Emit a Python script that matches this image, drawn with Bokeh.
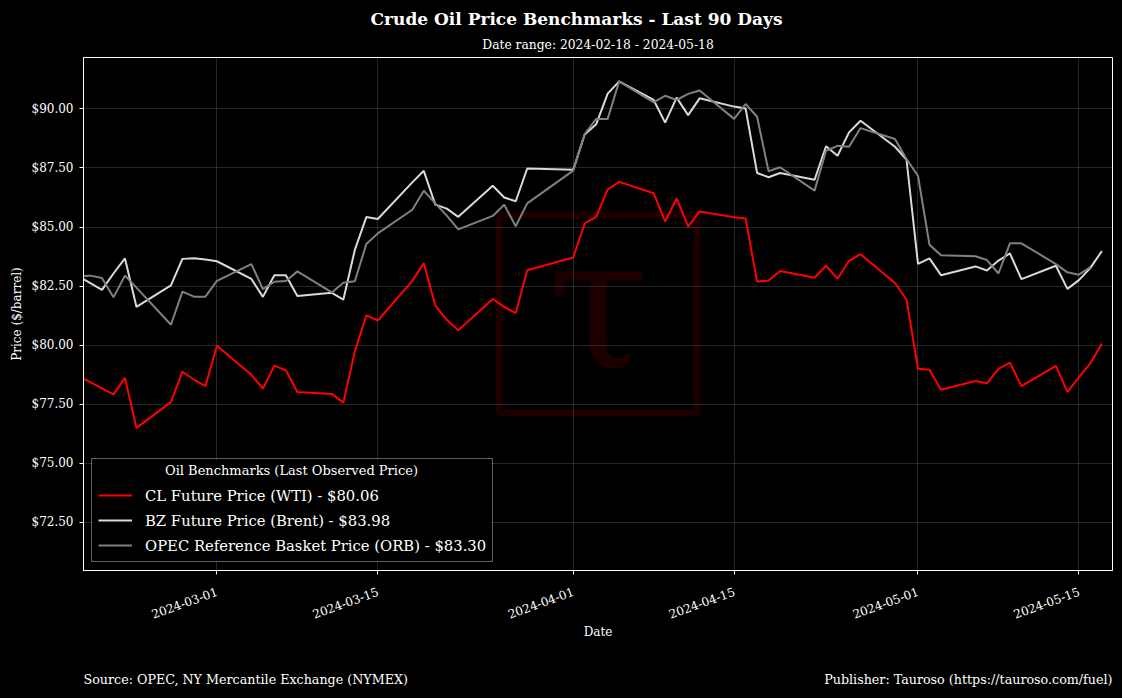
import math
import pandas as pd
from bokeh.plotting import figure
from bokeh.layouts import column
from bokeh.models import (Range1d, FixedTicker, DatetimeTickFormatter, PrintfTickFormatter,
                          Legend, LegendItem, Label, BoxAnnotation, ColumnDataSource)
from bokeh.core.properties import value
from bokeh.embed import file_html
from bokeh.resources import INLINE

# ---------------- data ----------------
wti_dates = ["2024-02-16", "2024-02-21", "2024-02-22", "2024-02-23", "2024-02-26", "2024-02-27",
             "2024-02-28", "2024-02-29", "2024-03-01", "2024-03-04", "2024-03-05", "2024-03-06",
             "2024-03-07", "2024-03-08", "2024-03-11", "2024-03-12", "2024-03-13", "2024-03-14",
             "2024-03-15", "2024-03-18", "2024-03-19", "2024-03-20", "2024-03-21", "2024-03-22",
             "2024-03-25", "2024-03-26", "2024-03-27", "2024-03-28", "2024-04-01", "2024-04-02",
             "2024-04-03", "2024-04-04", "2024-04-05", "2024-04-08", "2024-04-09", "2024-04-10",
             "2024-04-11", "2024-04-12", "2024-04-15", "2024-04-16", "2024-04-17", "2024-04-18",
             "2024-04-19", "2024-04-22", "2024-04-23", "2024-04-24", "2024-04-25", "2024-04-26",
             "2024-04-29", "2024-04-30", "2024-05-01", "2024-05-02", "2024-05-03", "2024-05-06",
             "2024-05-07", "2024-05-08", "2024-05-09", "2024-05-10", "2024-05-13", "2024-05-14",
             "2024-05-15", "2024-05-16", "2024-05-17"]
wti_prices = [79.19, 77.91, 78.61, 76.49, 77.58, 78.87,
              78.54, 78.26, 79.97, 78.74, 78.15, 79.13,
              78.93, 78.01, 77.93, 77.56, 79.72, 81.26,
              81.04, 82.72, 83.47, 81.68, 81.07, 80.63,
              81.95, 81.62, 81.35, 83.17, 83.71, 85.15,
              85.43, 86.59, 86.91, 86.43, 85.23, 86.21,
              85.02, 85.66, 85.41, 85.36, 82.69, 82.73,
              83.14, 82.85, 83.36, 82.81, 83.57, 83.85,
              82.63, 81.93, 79.00, 78.95, 78.11, 78.48,
              78.38, 78.99, 79.26, 78.26, 79.12, 78.02,
              78.63, 79.23, 80.06]

brent_dates = ["2024-02-16", "2024-02-20", "2024-02-21", "2024-02-22", "2024-02-23", "2024-02-26",
               "2024-02-27", "2024-02-28", "2024-02-29", "2024-03-01", "2024-03-04", "2024-03-05",
               "2024-03-06", "2024-03-07", "2024-03-08", "2024-03-11", "2024-03-12", "2024-03-13",
               "2024-03-14", "2024-03-15", "2024-03-18", "2024-03-19", "2024-03-20", "2024-03-21",
               "2024-03-22", "2024-03-25", "2024-03-26", "2024-03-27", "2024-03-28", "2024-04-01",
               "2024-04-02", "2024-04-03", "2024-04-04", "2024-04-05", "2024-04-08", "2024-04-09",
               "2024-04-10", "2024-04-11", "2024-04-12", "2024-04-15", "2024-04-16", "2024-04-17",
               "2024-04-18", "2024-04-19", "2024-04-22", "2024-04-23", "2024-04-24", "2024-04-25",
               "2024-04-26", "2024-04-29", "2024-04-30", "2024-05-01", "2024-05-02", "2024-05-03",
               "2024-05-06", "2024-05-07", "2024-05-08", "2024-05-09", "2024-05-10", "2024-05-13",
               "2024-05-14", "2024-05-15", "2024-05-16", "2024-05-17"]
brent_prices = [83.47, 82.34, 83.03, 83.67, 81.62, 82.53,
                83.65, 83.68, 83.62, 83.55, 82.80, 82.04,
                82.96, 82.96, 82.08, 82.21, 81.92, 84.03,
                85.42, 85.34, 86.89, 87.38, 85.95, 85.78,
                85.43, 86.75, 86.25, 86.09, 87.48, 87.42,
                88.92, 89.35, 90.65, 91.17, 90.38, 89.42,
                90.48, 89.74, 90.45, 90.10, 90.02, 87.29,
                87.11, 87.29, 87.00, 88.42, 88.02, 89.01,
                89.50, 88.40, 87.86, 83.44, 83.67, 82.96,
                83.33, 83.16, 83.58, 83.88, 82.79, 83.36,
                82.38, 82.75, 83.27, 83.98]

orb_dates = ["2024-02-16", "2024-02-19", "2024-02-20", "2024-02-21", "2024-02-22", "2024-02-23",
             "2024-02-26", "2024-02-27", "2024-02-28", "2024-02-29", "2024-03-01", "2024-03-04",
             "2024-03-05", "2024-03-06", "2024-03-07", "2024-03-08", "2024-03-11", "2024-03-12",
             "2024-03-13", "2024-03-14", "2024-03-15", "2024-03-18", "2024-03-19", "2024-03-20",
             "2024-03-21", "2024-03-22", "2024-03-25", "2024-03-26", "2024-03-27", "2024-03-28",
             "2024-04-01", "2024-04-02", "2024-04-03", "2024-04-04", "2024-04-05", "2024-04-08",
             "2024-04-09", "2024-04-10", "2024-04-11", "2024-04-12", "2024-04-15", "2024-04-16",
             "2024-04-17", "2024-04-18", "2024-04-19", "2024-04-22", "2024-04-23", "2024-04-24",
             "2024-04-25", "2024-04-26", "2024-04-29", "2024-04-30", "2024-05-01", "2024-05-02",
             "2024-05-03", "2024-05-06", "2024-05-07", "2024-05-08", "2024-05-09", "2024-05-10",
             "2024-05-13", "2024-05-14", "2024-05-15", "2024-05-16"]
orb_prices = [82.85, 82.94, 82.84, 82.02, 82.94, 82.43,
              80.86, 82.26, 82.05, 82.05, 82.72, 83.43,
              82.37, 82.68, 82.71, 83.12, 82.23, 82.64,
              82.70, 84.28, 84.73, 85.73, 86.54, 86.00,
              85.48, 84.90, 85.47, 85.94, 85.03, 86.00,
              87.39, 88.94, 89.58, 89.58, 91.17, 90.28,
              90.56, 90.38, 90.64, 90.78, 89.58, 90.21,
              89.67, 87.36, 87.53, 86.54, 88.23, 88.44,
              88.40, 89.19, 88.73, 87.88, 87.17, 84.25,
              83.80, 83.76, 83.60, 83.03, 84.31, 84.31,
              83.43, 83.08, 82.98, 83.30]

series_names = ["CL Future Price (WTI)", "BZ Future Price (Brent)", "OPEC Reference Basket Price (ORB)"]
series_colors = ["#ff0000", "#d9d9d9", "#808080"]

x_tick_labels = ["2024-03-01", "2024-03-15", "2024-04-01", "2024-04-15", "2024-05-01", "2024-05-15"]
y_ticks = [72.5, 75.0, 77.5, 80.0, 82.5, 85.0, 87.5, 90.0]
x_start, x_end = "2024-02-18 09:25", "2024-05-17 22:10"
y_start, y_end = 70.45, 92.18

title_text = "Crude Oil Price Benchmarks - Last 90 Days"
subtitle_text = "Date range: 2024-02-18 - 2024-05-18"
source_text = "Source: OPEC, NY Mercantile Exchange (NYMEX)"
publisher_text = "Publisher: Tauroso (https://tauroso.com/fuel)"
legend_title = "Oil Benchmarks (Last Observed Price)"

# ---------------- layout constants ----------------
FONT = "DejaVu Serif"
TOTAL_W = 1122
HEAD_H, MAIN_H, FOOT_H = 56, 594, 48
ML, MR, MT, MB = 83, 10, 1, 80
FW, FH = TOTAL_W - ML - MR, MAIN_H - MT - MB


def ms(s):
    return pd.Timestamp(s).value / 1e6


def band(height):
    # the column aligns the band frames with the main plot frame (ML .. ML+FW)
    f = figure(width=TOTAL_W, height=height, x_range=Range1d(ML, ML + FW),
               y_range=Range1d(0, height), output_backend="svg", toolbar_location=None,
               min_border_left=ML, min_border_right=MR, min_border_top=0, min_border_bottom=0,
               x_axis_location=None, y_axis_location=None,
               background_fill_color="black", border_fill_color="black",
               outline_line_color=None)
    f.xgrid.visible = False
    f.ygrid.visible = False
    return f


# ---------------- header ----------------
head = band(HEAD_H)
head.text(x=[576], y=[HEAD_H - 18], text=[title_text], text_font=value(FONT),
          text_font_size="17px", text_font_style="bold", text_color="white",
          text_align="center", text_baseline="middle")
head.text(x=[ML + FW / 2], y=[HEAD_H - 44], text=[subtitle_text], text_font=value(FONT),
          text_font_size="12.3px", text_color="white", text_align="center", text_baseline="middle")

# ---------------- main plot ----------------
p = figure(width=TOTAL_W, height=MAIN_H, x_axis_type="datetime",
           x_range=Range1d(ms(x_start), ms(x_end)), y_range=Range1d(y_start, y_end),
           output_backend="svg", toolbar_location=None,
           min_border_left=ML, min_border_right=MR, min_border_top=MT, min_border_bottom=MB,
           background_fill_color="black", border_fill_color="black",
           outline_line_color="white", outline_line_width=1)

# watermark
xc = (ms(x_start) + ms(x_end)) / 2
yc = (y_start + y_end) / 2
p.rect(x=[xc], y=[yc], width=198, height=198, width_units="screen", height_units="screen",
       fill_alpha=0, line_color="#ff0000", line_alpha=0.11, line_width=7)
p.text(x=[xc], y=[yc], text=["τ"], text_font=value(FONT), text_font_size="185px",
       text_align="center", text_baseline="middle", text_color="#ff0000", text_alpha=0.11,
       y_offset=-10)

# legend backing box (hides grid lines beneath the legend)
p.add_layout(BoxAnnotation(left=9, right=408, bottom=9, top=111,
                           left_units="screen", right_units="screen",
                           bottom_units="screen", top_units="screen",
                           fill_color="black", fill_alpha=0.9, line_color=None,
                           level="underlay"))

all_dates = [wti_dates, brent_dates, orb_dates]
all_prices = [wti_prices, brent_prices, orb_prices]
items = []
for name, col, d, v in zip(series_names, series_colors, all_dates, all_prices):
    src = ColumnDataSource(dict(x=pd.to_datetime(d), y=v))
    r = p.line("x", "y", source=src, line_color=col, line_width=2)
    items.append(LegendItem(label=f"{name} - ${v[-1]:.2f}", renderers=[r]))

legend = Legend(items=items, location="bottom_left", margin=8,
                background_fill_color="black", background_fill_alpha=0.0,
                border_line_color="#bbbbbb", border_line_width=1,
                label_text_color="white", label_text_font=FONT, label_text_font_size="14.8px",
                glyph_width=34, glyph_height=20, label_height=20, spacing=5, padding=6,
                label_standoff=13, title="\u00a0", title_text_font_size="12px",
                title_text_font=FONT, title_standoff=6)
p.add_layout(legend)
p.add_layout(Label(x=208, y=100, x_units="screen", y_units="screen", text=legend_title,
                   text_font=FONT, text_font_size="13px", text_color="white",
                   text_align="center", text_baseline="middle", level="overlay"))

# axes
xt = FixedTicker(ticks=[ms(t) for t in x_tick_labels])
p.xaxis.ticker = xt
p.xgrid.ticker = xt
fmt = "%Y-%m-%d"
p.xaxis.formatter = DatetimeTickFormatter(days=fmt, months=fmt, years=fmt, hours=fmt,
                                          hourmin=fmt, minutes=fmt, seconds=fmt)
p.xaxis.major_label_orientation = math.radians(20)
yt = FixedTicker(ticks=y_ticks)
p.yaxis.ticker = yt
p.ygrid.ticker = yt
p.yaxis.formatter = PrintfTickFormatter(format="$%.2f")

for ax in [p.xaxis[0], p.yaxis[0]]:
    ax.axis_line_color = "white"
    ax.major_tick_line_color = "white"
    ax.major_tick_out = 4
    ax.major_tick_in = 0
    ax.minor_tick_line_color = None
    ax.major_label_text_color = "white"
    ax.major_label_text_font = FONT
    ax.major_label_text_font_size = "12px"
    ax.axis_label_text_color = "white"
    ax.axis_label_text_font = FONT
    ax.axis_label_text_font_size = "12px"
    ax.axis_label_text_font_style = "normal"
p.xaxis.axis_label = "Date"
p.yaxis.axis_label = "Price ($/barrel)"
p.xaxis.major_label_standoff = 16
p.yaxis.major_label_standoff = 6
p.xaxis.axis_label_standoff = -2
p.yaxis.axis_label_standoff = 5

for g in [p.xgrid[0], p.ygrid[0]]:
    g.grid_line_color = "white"
    g.grid_line_alpha = 0.15

# ---------------- footer ----------------
foot = band(FOOT_H)
foot.text(x=[ML], y=[FOOT_H - 29], text=[source_text], text_font=value(FONT),
          text_font_size="12.7px", text_color="white", text_align="left", text_baseline="middle")
foot.text(x=[ML + FW], y=[FOOT_H - 29], text=[publisher_text], text_font=value(FONT),
          text_font_size="12.7px", text_color="white", text_align="right", text_baseline="middle")

layout = column(head, p, foot, spacing=0, styles={"background-color": "black"})
open("out.html", "w").write(file_html(layout, INLINE))
